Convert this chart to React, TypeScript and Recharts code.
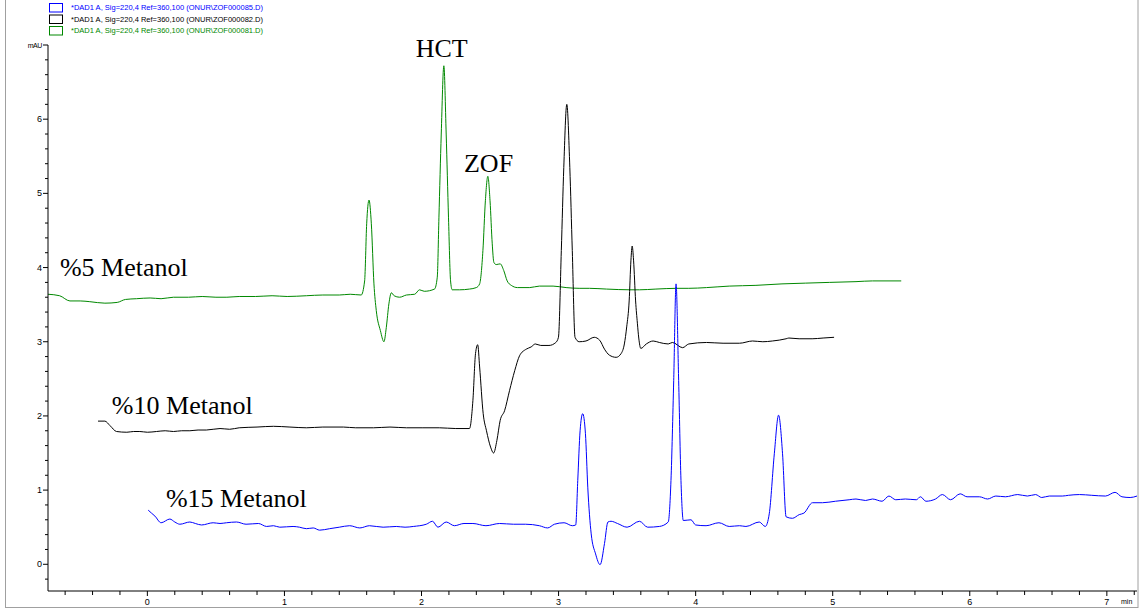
import React from 'react';
import { LineChart, Line, XAxis, YAxis, ReferenceDot } from 'recharts';

// [time (min), signal (mAU)]
const metanol5: [number, number][] = [
  [-0.725, 3.64], [-0.64, 3.62], [-0.565, 3.55], [-0.49, 3.55], [-0.42, 3.54], [-0.31, 3.52], [-0.22, 3.53],
  [-0.16, 3.57], [-0.08, 3.58], [0.02, 3.59], [0.1, 3.58], [0.19, 3.6], [0.3, 3.6], [0.4, 3.61], [0.5, 3.6],
  [0.58, 3.6], [0.67, 3.61], [0.79, 3.61], [0.91, 3.62], [1.02, 3.61], [1.16, 3.62], [1.28, 3.63], [1.4, 3.63],
  [1.48, 3.64], [1.56, 3.63], [1.585, 3.82], [1.6, 4.59], [1.617, 4.91], [1.634, 4.59], [1.653, 3.78],
  [1.67, 3.42], [1.7, 3.15], [1.726, 3.0], [1.743, 3.19], [1.762, 3.51], [1.78, 3.66], [1.8, 3.62],
  [1.84, 3.6], [1.89, 3.63], [1.95, 3.64], [1.986, 3.7], [2.02, 3.68], [2.095, 3.71], [2.115, 3.87],
  [2.127, 4.67], [2.144, 5.8], [2.163, 6.72], [2.18, 5.8], [2.197, 4.67], [2.212, 3.82], [2.224, 3.7],
  [2.278, 3.7], [2.35, 3.71], [2.4, 3.73], [2.424, 3.78], [2.448, 4.23], [2.466, 4.9], [2.484, 5.23],
  [2.5, 4.9], [2.516, 4.32], [2.528, 4.07], [2.545, 4.04], [2.574, 4.05], [2.6, 3.96], [2.625, 3.82],
  [2.655, 3.76], [2.7, 3.73], [2.79, 3.73], [2.86, 3.75], [2.96, 3.75], [3.055, 3.73], [3.15, 3.72],
  [3.225, 3.72], [3.35, 3.71], [3.52, 3.7], [3.59, 3.7], [3.71, 3.71], [3.86, 3.72], [3.95, 3.72],
  [4.08, 3.73], [4.245, 3.75], [4.44, 3.76], [4.63, 3.78], [4.8, 3.79], [4.975, 3.8], [5.17, 3.81],
  [5.29, 3.82], [5.5, 3.82],
];

const metanol10: [number, number][] = [
  [-0.36, 1.93], [-0.31, 1.93], [-0.273, 1.87], [-0.225, 1.79], [-0.15, 1.78], [-0.1, 1.79], [-0.055, 1.79],
  [0.0, 1.78], [0.067, 1.79], [0.13, 1.8], [0.19, 1.79], [0.25, 1.8], [0.31, 1.8], [0.37, 1.81], [0.43, 1.81],
  [0.53, 1.83], [0.6, 1.82], [0.67, 1.84], [0.8, 1.85], [0.92, 1.86], [1.04, 1.85], [1.16, 1.84], [1.28, 1.85],
  [1.43, 1.85], [1.52, 1.84], [1.65, 1.84], [1.77, 1.85], [1.89, 1.84], [2.01, 1.84], [2.13, 1.84],
  [2.25, 1.83], [2.35, 1.83], [2.375, 2.21], [2.394, 2.84], [2.41, 2.96], [2.424, 2.66], [2.45, 2.03],
  [2.474, 1.8], [2.504, 1.58], [2.526, 1.5], [2.55, 1.67], [2.574, 1.94], [2.606, 2.07], [2.642, 2.34],
  [2.68, 2.61], [2.715, 2.81], [2.764, 2.9], [2.8, 2.93], [2.83, 2.97], [2.87, 2.95], [2.93, 2.95],
  [2.98, 2.99], [2.999, 3.06], [3.02, 4.23], [3.038, 5.35], [3.06, 6.2], [3.082, 5.35], [3.1, 4.23],
  [3.12, 3.06], [3.15, 3.0], [3.2, 3.01], [3.26, 3.06], [3.3, 3.02], [3.335, 2.9], [3.37, 2.82],
  [3.42, 2.79], [3.456, 2.84], [3.48, 2.97], [3.497, 3.2], [3.515, 3.55], [3.528, 4.1], [3.537, 4.29],
  [3.547, 4.1], [3.562, 3.55], [3.575, 3.25], [3.585, 3.05], [3.6, 2.91], [3.64, 2.97], [3.69, 3.01],
  [3.735, 2.99], [3.8, 2.97], [3.83, 2.99], [3.905, 2.92], [3.95, 2.97], [4.08, 2.99], [4.2, 2.98],
  [4.32, 2.98], [4.415, 3.01], [4.49, 3.0], [4.56, 3.01], [4.66, 3.04], [4.68, 3.05], [4.755, 3.04],
  [4.85, 3.04], [4.93, 3.05], [5.01, 3.06],
];

const metanol15: [number, number][] = [
  [0.006, 0.73], [0.03, 0.69], [0.055, 0.65], [0.1, 0.56], [0.164, 0.61], [0.2, 0.57], [0.237, 0.54],
  [0.31, 0.57], [0.35, 0.55], [0.395, 0.53], [0.48, 0.56], [0.53, 0.55], [0.577, 0.56], [0.65, 0.57],
  [0.72, 0.54], [0.81, 0.55], [0.87, 0.51], [0.92, 0.52], [0.966, 0.5], [1.063, 0.51], [1.11, 0.5],
  [1.16, 0.48], [1.21, 0.49], [1.257, 0.46], [1.33, 0.48], [1.4, 0.5], [1.476, 0.52], [1.55, 0.49],
  [1.62, 0.52], [1.72, 0.5], [1.816, 0.51], [1.88, 0.5], [1.94, 0.51], [2.035, 0.54], [2.08, 0.58],
  [2.12, 0.5], [2.18, 0.57], [2.24, 0.52], [2.31, 0.55], [2.375, 0.55], [2.47, 0.52], [2.57, 0.55],
  [2.67, 0.54], [2.76, 0.54], [2.86, 0.52], [2.92, 0.49], [2.97, 0.54], [3.04, 0.56], [3.1, 0.52],
  [3.125, 0.53], [3.14, 1.13], [3.157, 1.8], [3.176, 2.03], [3.196, 1.76], [3.213, 1.04], [3.238, 0.41],
  [3.27, 0.14], [3.303, -0.005], [3.335, 0.28], [3.36, 0.57], [3.383, 0.58], [3.43, 0.55], [3.5, 0.5],
  [3.59, 0.58], [3.65, 0.5], [3.735, 0.51], [3.8, 0.57], [3.82, 1.13], [3.84, 2.48], [3.857, 3.78],
  [3.876, 2.48], [3.893, 1.13], [3.91, 0.59], [3.966, 0.6], [4.0, 0.53], [4.076, 0.52], [4.17, 0.56],
  [4.245, 0.51], [4.32, 0.52], [4.367, 0.51], [4.464, 0.57], [4.508, 0.51], [4.537, 0.68], [4.574, 1.49],
  [4.605, 2.01], [4.634, 1.49], [4.66, 0.64], [4.706, 0.62], [4.756, 0.67], [4.79, 0.69], [4.853, 0.83],
  [4.925, 0.83], [5.02, 0.85], [5.12, 0.87], [5.17, 0.88], [5.24, 0.86], [5.29, 0.88], [5.36, 0.85],
  [5.41, 0.92], [5.46, 0.87], [5.53, 0.88], [5.61, 0.87], [5.64, 0.91], [5.68, 0.85], [5.75, 0.88],
  [5.8, 0.94], [5.86, 0.87], [5.93, 0.95], [5.98, 0.91], [6.07, 0.91], [6.13, 0.88], [6.19, 0.92],
  [6.26, 0.91], [6.35, 0.94], [6.42, 0.92], [6.48, 0.94], [6.525, 0.9], [6.58, 0.92], [6.675, 0.92],
  [6.72, 0.93], [6.8, 0.94], [6.89, 0.93], [6.99, 0.92], [7.06, 0.97], [7.11, 0.91], [7.17, 0.9],
  [7.22, 0.92],
];

const legendNames = [
  '*DAD1 A, Sig=220,4 Ref=360,100 (ONUR\\ZOF000085.D)',
  '*DAD1 A, Sig=220,4 Ref=360,100 (ONUR\\ZOF000082.D)',
  '*DAD1 A, Sig=220,4 Ref=360,100 (ONUR\\ZOF000081.D)',
];
const legendColors = ['#0000ff', '#000000', '#008800'];

const annotations = [
  { text: 'HCT', t: 2.147, v: 6.84, anchor: 'middle' },
  { text: 'ZOF', t: 2.489, v: 5.29, anchor: 'middle' },
  { text: '%5 Metanol', t: -0.638, v: 3.89, anchor: 'start' },
  { text: '%10 Metanol', t: -0.259, v: 2.03, anchor: 'start' },
  { text: '%15 Metanol', t: 0.135, v: 0.77, anchor: 'start' },
];

const xDomain: [number, number] = [-0.725, 7.22];
const yDomain: [number, number] = [-0.36, 7];
const xTicks = Array.from({ length: 40 }, (_, i) => Math.round((i - 3) * 2) / 10);
const yTicks = Array.from({ length: 37 }, (_, i) => Math.round((i - 1) * 2) / 10);

const toRows = (arr: [number, number][]) => arr.map(([t, v]) => ({ t, v }));

const isMajor = (v: number) => Math.abs(v - Math.round(v)) < 1e-6;

const XTick = (props: any) => {
  const { x, y, payload } = props;
  const v = payload.value;
  const major = isMajor(v);
  return (
    <g>
      <line x1={x} x2={x} y1={y} y2={y + (major ? 5 : 4)} stroke="#000" strokeWidth={1} />
      {major && (
        <text x={x} y={y + 14} textAnchor="middle" fontSize={9} fontFamily="Liberation Sans, Arial" fill="#000">
          {v}
        </text>
      )}
    </g>
  );
};

const YTick = (props: any) => {
  const { x, y, payload } = props;
  const v = payload.value;
  const major = isMajor(v);
  return (
    <g>
      <line x1={x - (major ? 5 : 3)} x2={x} y1={y} y2={y} stroke="#000" strokeWidth={1} />
      {major && (
        <text
          x={x - 6}
          y={y + 3}
          textAnchor="end"
          fontSize={v === 7 ? 7 : 9}
          letterSpacing={v === 7 ? -0.4 : 0}
          fontFamily="Liberation Sans, Arial"
          fill="#000"
        >
          {v === 7 ? 'mAU' : v}
        </text>
      )}
    </g>
  );
};

export default function App() {
  return (
    <div style={{ position: 'relative', width: 1140, height: 610, background: '#fff', overflow: 'hidden' }}>
      <style>{'body{margin:0}'}</style>
      <LineChart width={1140} height={610} margin={{ top: 45, right: 3, bottom: 0, left: 8 }}>
        <XAxis
          type="number"
          dataKey="t"
          domain={xDomain}
          ticks={xTicks}
          interval={0}
          allowDataOverflow
          tickLine={false}
          tickSize={0}
          tickMargin={0}
          tick={<XTick />}
          axisLine={{ stroke: '#000' }}
          height={19}
        />
        <YAxis
          type="number"
          dataKey="v"
          domain={yDomain}
          ticks={yTicks}
          interval={0}
          allowDataOverflow
          tickLine={false}
          tickSize={0}
          tickMargin={0}
          tick={<YTick />}
          axisLine={{ stroke: '#000' }}
          width={40}
        />
        <Line data={toRows(metanol5)} dataKey="v" type="monotone" stroke="#008800" strokeWidth={1} dot={false} isAnimationActive={false} />
        <Line data={toRows(metanol10)} dataKey="v" type="monotone" stroke="#000000" strokeWidth={1} dot={false} isAnimationActive={false} />
        <Line data={toRows(metanol15)} dataKey="v" type="monotone" stroke="#0000ff" strokeWidth={1} dot={false} isAnimationActive={false} />
        {annotations.map((a) => (
          <ReferenceDot
            key={a.text}
            x={a.t}
            y={a.v}
            r={0}
            ifOverflow="visible"
            shape={(p: any) => (
              <text x={p.cx} y={p.cy} textAnchor={a.anchor as any} fontSize={26} fontFamily="Liberation Serif, Times New Roman, serif" fill="#000">
                {a.text}
              </text>
            )}
          />
        ))}
      </LineChart>
      <svg width={1140} height={610} style={{ position: 'absolute', left: 0, top: 0, pointerEvents: 'none' }}>
        {legendNames.map((name, i) => (
          <g key={name}>
            <rect x={49.5} y={3.5 + i * 11.5} width={13} height={8.5} fill="none" stroke={legendColors[i]} strokeWidth={1} />
            <text
              x={71}
              y={10 + i * 11.5}
              fontSize={8}
              textLength={192}
              lengthAdjust="spacingAndGlyphs"
              fontFamily="Liberation Sans, Arial"
              fill={legendColors[i]}
            >
              {name}
            </text>
          </g>
        ))}
        <text x={1121} y={604} fontSize={7} fontFamily="Liberation Sans, Arial" fill="#000">min</text>
        <rect x={5.5} y={-2} width={1132.5} height={609.5} fill="none" stroke="#a0a0a0" strokeWidth={1} />
      </svg>
    </div>
  );
}
